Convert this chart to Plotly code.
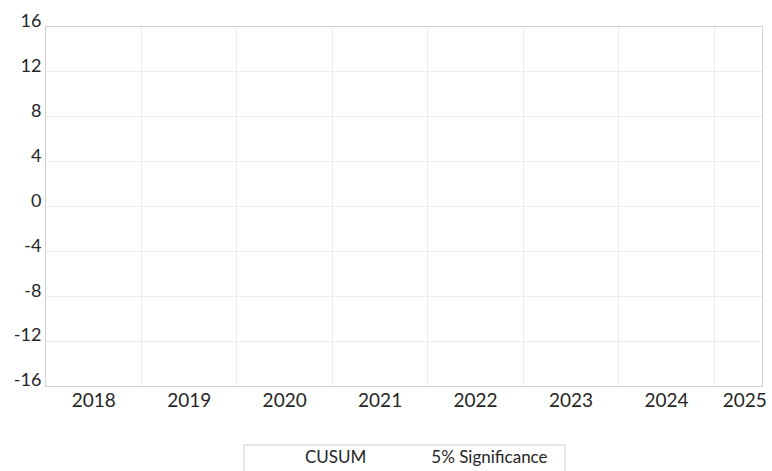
import plotly.graph_objects as go

# Data (no series values are visible in the reference chart)
years = ["2018", "2019", "2020", "2021", "2022", "2023", "2024", "2025"]
year_starts = [2018, 2019, 2020, 2021, 2022, 2023, 2024, 2025]
y_ticks = [-16, -12, -8, -4, 0, 4, 8, 12, 16]
series_names = ["CUSUM", "5% Significance"]
cusum_x = [None]
cusum_y = [None]
sig_x = [None]
sig_y = [None]

# label positions: middle of each year, last one shifted (half year shown)
label_pos = [s + 0.5 for s in year_starts[:-1]] + [2025.32]

FONT = "Lato"
GRID = "#ececec"
FRAME = "#d0d0d0"

fig = go.Figure()
fig.add_trace(go.Scatter(x=cusum_x, y=cusum_y, mode="lines", name=series_names[0],
                         line=dict(color="rgba(255,255,255,0)", width=2)))
fig.add_trace(go.Scatter(x=sig_x, y=sig_y, mode="lines", name=series_names[1],
                         line=dict(color="rgba(255,255,255,0)", width=2)))

# legend frame (box that runs past the bottom edge of the picture)
fig.add_shape(type="rect", xref="paper", yref="paper",
              x0=0.2765, x1=0.7249, y0=-0.1643, y1=-0.40,
              line=dict(color=FRAME, width=1), fillcolor="rgba(0,0,0,0)", layer="below")

fig.update_layout(
    width=772, height=471,
    margin=dict(l=46, r=10, t=27, b=85, autoexpand=False),
    paper_bgcolor="white", plot_bgcolor="white",
    font=dict(family=FONT, color="#262626"),
    showlegend=True,
    legend=dict(orientation="h", x=0.493, xanchor="center", y=-0.1476, yanchor="top",
                borderwidth=0, font=dict(size=17, family=FONT),
                itemwidth=50, bgcolor="rgba(0,0,0,0)"),
    xaxis=dict(range=[2018, 2025.5], tickmode="array", tickvals=label_pos, ticktext=years,
               showgrid=False, zeroline=False, showline=True, linecolor=FRAME, mirror=True,
               ticks="", tickfont=dict(size=19, family=FONT), ticklabelstandoff=-3,
               minor=dict(tickmode="array", tickvals=year_starts, showgrid=True,
                          gridcolor=GRID, gridwidth=1, ticks="")),
    yaxis=dict(range=[-16, 16], tickmode="array", tickvals=y_ticks,
               ticktext=[str(v) for v in y_ticks],
               showgrid=True, gridcolor=GRID, gridwidth=1, zeroline=False,
               showline=True, linecolor=FRAME, mirror=True, ticks="",
               tickfont=dict(size=18, family=FONT), ticklabelshift=-6),
)

fig.write_html("out.html")
